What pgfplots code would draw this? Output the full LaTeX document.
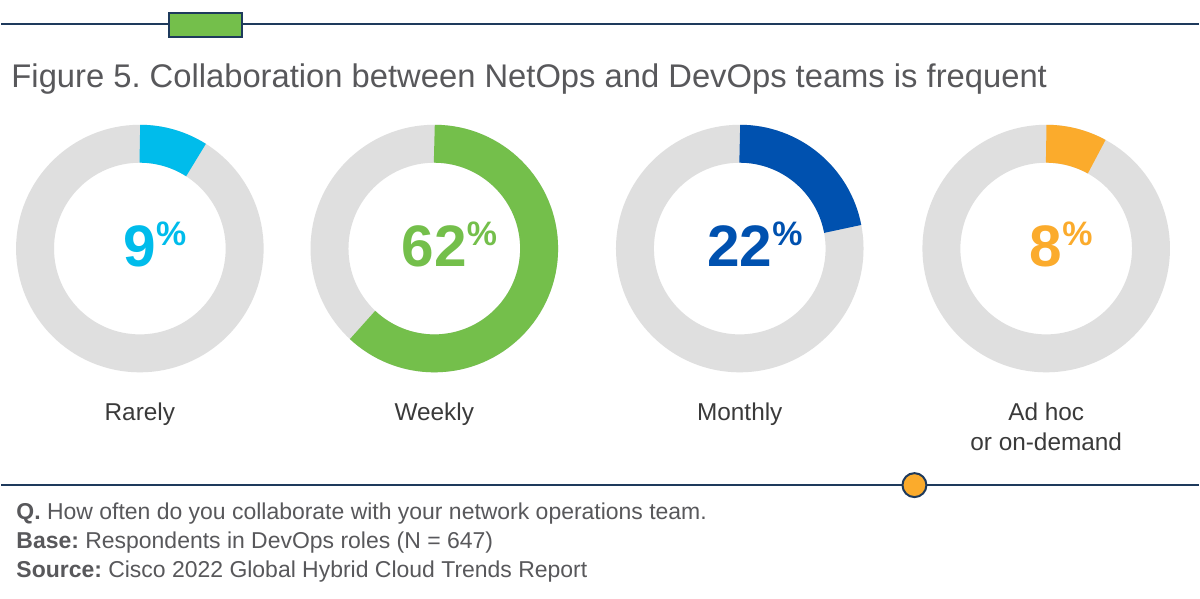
\documentclass[border=0pt]{standalone}
\usepackage{pgfplots}
\pgfplotsset{compat=1.18}
\usepackage{pgfplotstable}
\usepackage{fontspec}
\setmainfont{Liberation Sans}
\frenchspacing

\definecolor{ciscoblue}{HTML}{00BCEB}
\definecolor{ciscogreen}{HTML}{74BF4B}
\definecolor{cisconavy}{HTML}{0051AF}
\definecolor{ciscoorange}{HTML}{FBAB2C}
\definecolor{ringgrey}{HTML}{DFDFDF}
\definecolor{rulenavy}{HTML}{1E3A5C}
\definecolor{titlegrey}{HTML}{58585B}
\definecolor{labelgrey}{HTML}{3A3A3A}

% share of DevOps respondents per answer; x,y = donut centre in px, idx = colour
\pgfplotstableread{
x    y   value idx
139  249 9     0
434  249 62    1
740  249 22    2
1047 249 8     3
}\donuts

\begin{document}
\begin{tikzpicture}
\begin{axis}[
  width=600pt, height=300pt, scale only axis,
  xmin=0, xmax=1200, ymin=0, ymax=600, y dir=reverse,
  hide axis, clip=false,
]
\fill[white] (axis cs:0,0) rectangle (axis cs:1200,600);

% top rule with green tab
\draw[rulenavy, line width=1.1pt] (axis cs:0,24) -- (axis cs:1200,24);
\draw[rulenavy, line width=1pt, fill=ciscogreen] (axis cs:168,13) rectangle (axis cs:241,37);

\node[anchor=base west, inner sep=0pt, text=titlegrey, font=\fontsize{16.4}{19}\selectfont]
  at (axis cs:10,88) {Figure 5. Collaboration between NetOps and DevOps teams is frequent};

% donuts
\addplot[
  scatter, only marks, mark=text, text mark={},
  visualization depends on={\thisrow{value} \as \pct},
  visualization depends on={\thisrow{idx} \as \cidx},
  scatter/@pre marker code/.code={
    \pgfmathtruncatemacro\ci{\cidx}
    \pgfmathtruncatemacro\pctint{\pct}
    \ifcase\ci \def\dcol{ciscoblue}\or \def\dcol{ciscogreen}\or \def\dcol{cisconavy}\else \def\dcol{ciscoorange}\fi
    \draw[draw=ringgrey, line width=19pt] (0,0) circle[radius=52.5pt];
    \draw[draw=\dcol, line width=19pt] (90:52.5pt) arc[start angle=90, delta angle={-3.6*\pct}, radius=52.5pt];
    \node[anchor=base, inner sep=0pt, text=\dcol, font=\fontsize{29.3}{29}\selectfont\bfseries]
      at (0,-9pt) {\pctint\rlap{\raisebox{10.3pt}{\fontsize{17}{17}\selectfont\%}}};
  },
  scatter/@post marker code/.code={},
] table[x=x, y=y] {\donuts};

% category labels
\begin{scope}[every node/.style={anchor=base, inner sep=0pt, text=labelgrey, font=\fontsize{12.2}{14}\selectfont}]
\node at (axis cs:139,421) {Rarely};
\node at (axis cs:434,421) {Weekly};
\node at (axis cs:740,421) {Monthly};
\node at (axis cs:1047,421) {Ad hoc};
\node at (axis cs:1047,451) {or on-demand};
\end{scope}

% bottom rule with orange dot
\draw[rulenavy, line width=1.1pt] (axis cs:0,486) -- (axis cs:1200,486);
\draw[rulenavy, line width=1pt, fill=ciscoorange] (axis cs:915,486) circle[radius=6pt];

% notes
\begin{scope}[every node/.style={anchor=base west, inner sep=0pt, text=titlegrey, font=\fontsize{11.5}{13}\selectfont}]
\node at (axis cs:15,520) {\textbf{Q.} How often do you collaborate with your network operations team.};
\node at (axis cs:15,549) {\textbf{Base:} Respondents in DevOps roles (N = 647)};
\node at (axis cs:15,579) {\textbf{Source:} Cisco 2022 Global Hybrid Cloud Trends Report};
\end{scope}
\end{axis}
\end{tikzpicture}
\end{document}
